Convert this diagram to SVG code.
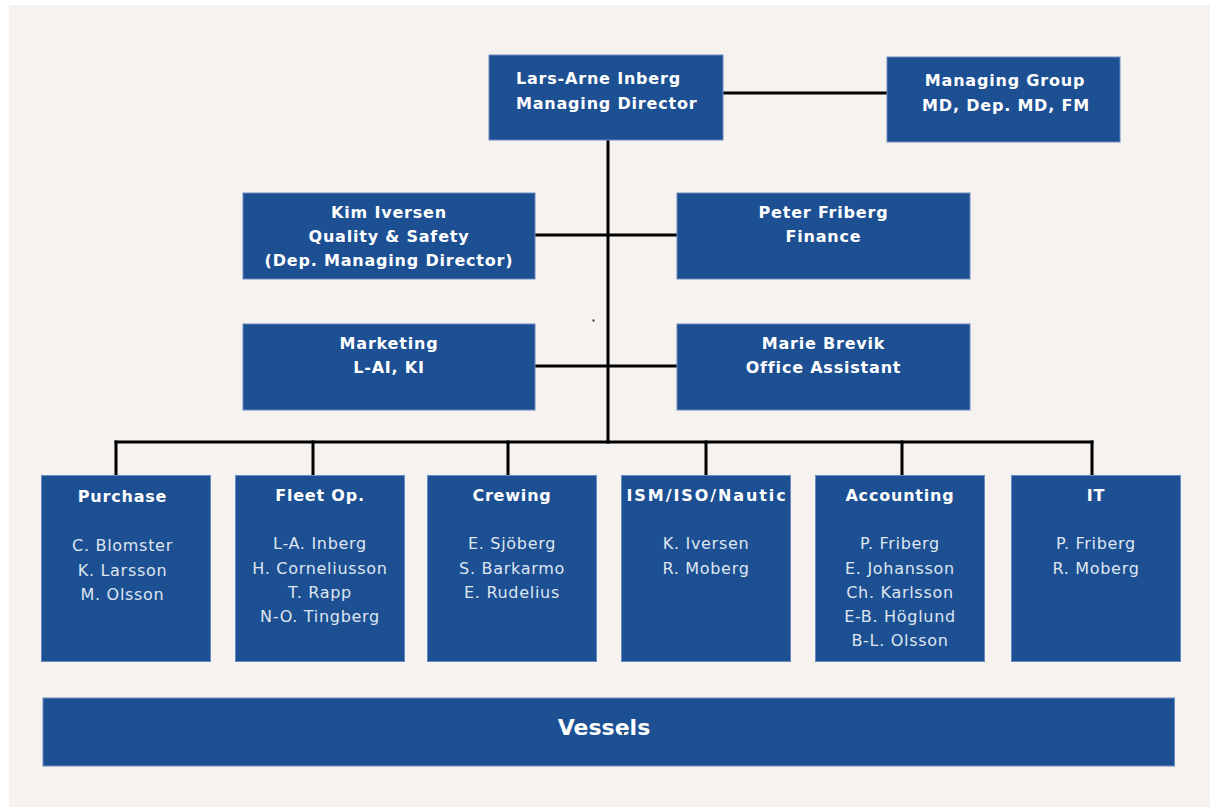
<svg xmlns="http://www.w3.org/2000/svg" width="1210" height="807" viewBox="0 0 1210 807">
  <style>
    .box { fill: #1d4f93; stroke: #6a8cc0; stroke-width: 1; }
    .line { stroke: #000; stroke-width: 3; fill: none; stroke-linecap: square; }
    .t { font-family: "DejaVu Sans", Verdana, sans-serif; font-weight: bold; font-size: 16px; fill: #ffffff; letter-spacing: 0.8px; }
    .n { font-family: "DejaVu Sans", Verdana, sans-serif; font-size: 16px; fill: #dfe6f0; letter-spacing: 0.7px; }
    .c { text-anchor: middle; }
  </style>

  <!-- page -->
  <rect x="0" y="0" width="1210" height="807" fill="#ffffff"/>
  <rect x="9" y="5" width="1201" height="802" fill="#f6f2ef"/>

  <!-- connectors -->
  <g id="connectors" class="line">
    <line x1="723" y1="93" x2="887" y2="93"/>
    <line x1="608" y1="140" x2="608" y2="442"/>
    <line x1="535" y1="235" x2="677" y2="235"/>
    <line x1="535" y1="366" x2="677" y2="366"/>
    <line x1="116" y1="442" x2="1092" y2="442"/>
    <line x1="116" y1="442" x2="116" y2="476"/>
    <line x1="313" y1="442" x2="313" y2="476"/>
    <line x1="508" y1="442" x2="508" y2="476"/>
    <line x1="706" y1="442" x2="706" y2="476"/>
    <line x1="902" y1="442" x2="902" y2="476"/>
    <line x1="1092" y1="442" x2="1092" y2="476"/>
  </g>
  <rect x="592.5" y="319.5" width="2" height="2" fill="#333"/>

  <!-- top level -->
  <g id="managing-director">
    <rect class="box" x="489" y="55" width="234" height="85"/>
    <text class="t" x="516" y="84">Lars-Arne Inberg</text>
    <text class="t" x="516" y="109">Managing Director</text>
  </g>
  <g id="managing-group">
    <rect class="box" x="887" y="57" width="233" height="85"/>
    <text class="t c" x="1005" y="86">Managing Group</text>
    <text class="t c" x="1006" y="111">MD, Dep. MD, FM</text>
  </g>

  <!-- staff -->
  <g id="quality-safety">
    <rect class="box" x="243" y="193" width="292" height="86"/>
    <text class="t c" x="389" y="218">Kim Iversen</text>
    <text class="t c" x="389" y="242">Quality &amp; Safety</text>
    <text class="t c" x="389" y="266">(Dep. Managing Director)</text>
  </g>
  <g id="finance">
    <rect class="box" x="677" y="193" width="293" height="86"/>
    <text class="t c" x="823.5" y="218">Peter Friberg</text>
    <text class="t c" x="823.5" y="242">Finance</text>
  </g>
  <g id="marketing">
    <rect class="box" x="243" y="324" width="292" height="86"/>
    <text class="t c" x="389" y="349">Marketing</text>
    <text class="t c" x="389" y="373">L-AI, KI</text>
  </g>
  <g id="office-assistant">
    <rect class="box" x="677" y="324" width="293" height="86"/>
    <text class="t c" x="823.5" y="349">Marie Brevik</text>
    <text class="t c" x="823.5" y="373">Office Assistant</text>
  </g>

  <!-- departments -->
  <g id="purchase">
    <rect class="box" x="41.5" y="475.5" width="169" height="186"/>
    <text class="t c" x="122.5" y="502">Purchase</text>
    <text class="n c" x="122.5" y="551">C. Blomster</text>
    <text class="n c" x="122.5" y="575.5">K. Larsson</text>
    <text class="n c" x="122.5" y="600">M. Olsson</text>
  </g>
  <g id="fleet-op">
    <rect class="box" x="235.5" y="475.5" width="169" height="186"/>
    <text class="t c" x="320" y="501">Fleet Op.</text>
    <text class="n c" x="320" y="549">L-A. Inberg</text>
    <text class="n c" x="320" y="573.5">H. Corneliusson</text>
    <text class="n c" x="320" y="598">T. Rapp</text>
    <text class="n c" x="320" y="622">N-O. Tingberg</text>
  </g>
  <g id="crewing">
    <rect class="box" x="427.5" y="475.5" width="169" height="186"/>
    <text class="t c" x="512" y="501">Crewing</text>
    <text class="n c" x="512" y="549">E. Sjöberg</text>
    <text class="n c" x="512" y="573.5">S. Barkarmo</text>
    <text class="n c" x="512" y="598">E. Rudelius</text>
  </g>
  <g id="ism-iso-nautic">
    <rect class="box" x="621.5" y="475.5" width="169" height="186"/>
    <text class="t c" x="706.5" y="501" textLength="160" lengthAdjust="spacing">ISM/ISO/Nautic</text>
    <text class="n c" x="706" y="549">K. Iversen</text>
    <text class="n c" x="706" y="573.5">R. Moberg</text>
  </g>
  <g id="accounting">
    <rect class="box" x="815.5" y="475.5" width="169" height="186"/>
    <text class="t c" x="900" y="501">Accounting</text>
    <text class="n c" x="900" y="549">P. Friberg</text>
    <text class="n c" x="900" y="573.5">E. Johansson</text>
    <text class="n c" x="900" y="598">Ch. Karlsson</text>
    <text class="n c" x="900" y="622">E-B. Höglund</text>
    <text class="n c" x="900" y="646">B-L. Olsson</text>
  </g>
  <g id="it">
    <rect class="box" x="1011.5" y="475.5" width="169" height="186"/>
    <text class="t c" x="1096" y="501">IT</text>
    <text class="n c" x="1096" y="549">P. Friberg</text>
    <text class="n c" x="1096" y="573.5">R. Moberg</text>
  </g>

  <!-- vessels bar -->
  <g id="vessels">
    <rect class="box" x="43" y="698" width="1131.5" height="68"/>
    <text class="c" x="604" y="735" font-family="'DejaVu Sans', Verdana, sans-serif" font-weight="bold" font-size="22" fill="#ffffff">Vessels</text>
    <rect x="622" y="732.5" width="2" height="2" fill="#222"/>
  </g>
</svg>
